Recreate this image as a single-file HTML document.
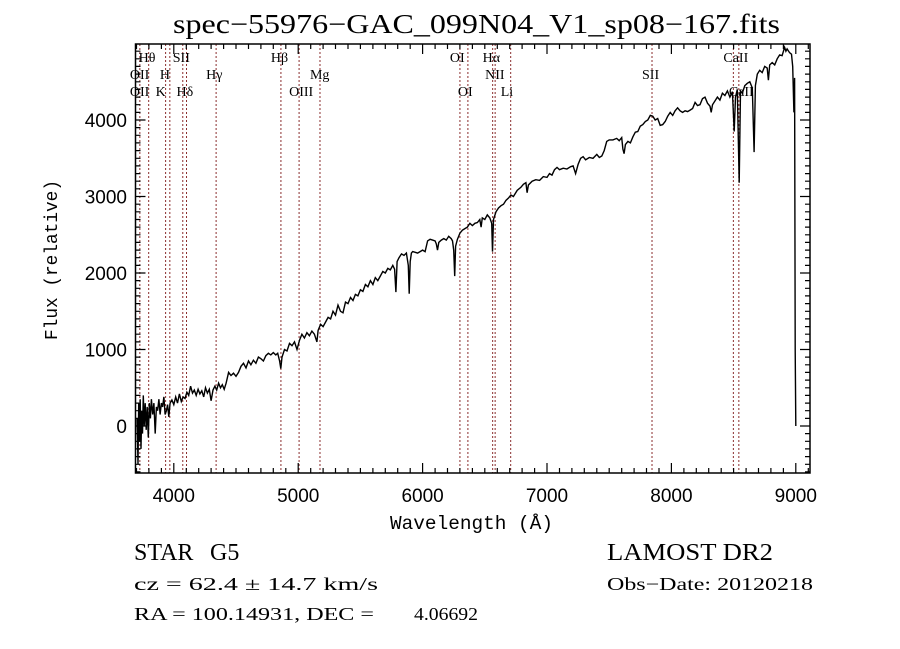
<!DOCTYPE html>
<html><head><meta charset="utf-8"><style>
html,body{margin:0;padding:0;background:#fff;}
svg{display:block;}
text{white-space:pre;}
</style></head><body>
<svg id="chart" width="900" height="649" viewBox="0 0 900 649" xmlns="http://www.w3.org/2000/svg" xml:space="preserve">
<rect width="900" height="649" fill="#fff"/>
<text x="173" y="33" font-family="Liberation Serif, serif" font-size="27" textLength="607" lengthAdjust="spacingAndGlyphs">spec−55976−GAC_099N04_V1_sp08−167.fits</text>
<g id="lines"></g>
<g id="series"></g>
<g id="axes"></g>
<text x="390" y="529" font-family="Liberation Mono, monospace" font-size="19" textLength="163" lengthAdjust="spacingAndGlyphs">Wavelength (Å)</text>
<text transform="translate(57,340) rotate(-90)" font-family="Liberation Mono, monospace" font-size="18" textLength="160" lengthAdjust="spacingAndGlyphs">Flux (relative)</text>
<text x="134" y="560" font-family="Liberation Serif, serif" font-size="24">STAR</text>
<text x="210" y="560" font-family="Liberation Serif, serif" font-size="24">G5</text>
<text x="607" y="560" font-family="Liberation Serif, serif" font-size="24" textLength="166" lengthAdjust="spacingAndGlyphs">LAMOST DR2</text>
<text x="134" y="590" font-family="Liberation Serif, serif" font-size="18" textLength="244" lengthAdjust="spacingAndGlyphs">cz = 62.4 ± 14.7 km/s</text>
<text x="607" y="590" font-family="Liberation Serif, serif" font-size="18" textLength="206" lengthAdjust="spacingAndGlyphs">Obs−Date: 20120218</text>
<text x="134" y="620" font-family="Liberation Serif, serif" font-size="18" textLength="240" lengthAdjust="spacingAndGlyphs">RA = 100.14931, DEC =</text>
<text x="414" y="620" font-family="Liberation Serif, serif" font-size="18" textLength="64" lengthAdjust="spacingAndGlyphs">4.06692</text>
</svg>
<script>
const waves = [3705,3712,3718,3724,3730,3736,3742,3748,3755,3762,3770,3778,3786,3795,3803,3812,3820,3830,3840,3850,3860,3870,3880,3890,3900,3910,3920,3930,3940,3950,3960,3970,3985,4000,4015,4030,4045,4060,4075,4090,4105,4120,4135,4150,4165,4180,4195,4210,4225,4240,4255,4270,4285,4300,4315,4330,4345,4360,4375,4390,4405,4420,4440,4460,4480,4500,4520,4540,4560,4580,4600,4620,4640,4660,4680,4700,4720,4740,4760,4780,4800,4820,4835,4850,4860,4870,4890,4910,4930,4950,4970,4990,5010,5030,5050,5070,5090,5110,5130,5150,5160,5180,5200,5220,5240,5260,5280,5300,5320,5340,5360,5380,5400,5420,5440,5460,5480,5500,5520,5540,5560,5580,5600,5620,5640,5660,5680,5700,5720,5740,5760,5775,5785,5795,5810,5830,5850,5870,5885,5892,5900,5910,5920,5940,5960,5980,6000,6020,6040,6060,6080,6100,6110,6120,6130,6150,6170,6190,6210,6230,6240,6250,6258,6265,6280,6300,6320,6340,6360,6380,6400,6420,6440,6460,6470,6480,6500,6520,6540,6555,6562,6570,6590,6610,6630,6650,6670,6690,6710,6730,6760,6790,6810,6830,6840,6850,6880,6910,6940,6970,7000,7020,7040,7060,7080,7100,7130,7160,7190,7210,7230,7250,7270,7290,7310,7340,7370,7400,7420,7440,7460,7480,7500,7530,7560,7580,7600,7610,7620,7630,7650,7670,7690,7710,7730,7750,7770,7790,7810,7830,7850,7870,7890,7910,7930,7950,7970,7990,8010,8030,8050,8070,8090,8110,8130,8150,8170,8190,8210,8230,8250,8270,8290,8310,8320,8330,8350,8370,8390,8410,8430,8450,8470,8490,8505,8515,8530,8545,8555,8570,8590,8610,8630,8650,8665,8675,8690,8710,8730,8750,8770,8780,8790,8810,8830,8850,8870,8890,8910,8920,8930,8950,8965,8975,8985,8990,8995,9000];
const fluxes = [100,-500,300,-200,350,-300,200,-100,400,0,300,-50,250,-150,300,100,350,150,300,-100,250,200,350,150,300,250,380,150,200,280,120,300,340,280,380,300,420,320,380,360,440,400,520,430,470,400,480,420,460,380,500,430,480,330,470,520,470,560,500,540,480,560,700,660,690,650,700,780,820,760,850,800,860,820,900,880,850,920,950,930,960,930,950,850,750,900,1000,980,1080,1050,1100,1000,1120,1200,1150,1220,1180,1240,1200,1100,1250,1330,1300,1360,1420,1400,1500,1450,1580,1500,1480,1620,1600,1680,1640,1720,1700,1780,1760,1850,1820,1900,1850,1940,1900,1960,2020,2000,2060,2040,2100,2050,1750,2150,2200,2250,2230,2260,2100,1730,2150,2260,2280,2270,2260,2280,2300,2280,2420,2440,2430,2420,2380,2300,2400,2430,2450,2430,2480,2450,2420,2300,1960,2350,2440,2520,2560,2580,2600,2650,2620,2650,2660,2700,2600,2720,2700,2760,2720,2650,2280,2700,2800,2850,2880,2900,2950,2980,3020,3000,3080,3120,3160,3180,3050,3150,3200,3220,3210,3260,3250,3300,3280,3350,3380,3350,3370,3360,3390,3400,3300,3420,3500,3520,3480,3510,3500,3550,3510,3530,3600,3720,3740,3740,3760,3730,3770,3620,3560,3680,3720,3700,3780,3840,3850,3920,3940,3980,4000,4060,4050,4000,4020,3930,3940,3980,4050,4100,4060,4120,4160,4120,4100,4120,4110,4130,4150,4230,4190,4200,4280,4300,4220,4180,4100,4200,4250,4300,4260,4350,4320,4380,4300,4370,3850,4300,4400,3180,4380,4350,4450,4480,4500,4420,3580,4450,4600,4650,4620,4700,4680,4520,4720,4750,4720,4800,4850,4840,4950,4900,4930,4880,4860,4700,4100,4550,1000,0];
const xTickValues = [4000,5000,6000,7000,8000,9000];
const yTickValues = [0,1000,2000,3000,4000];
const lineWaves = [3727,3798,3934,3968,4072,4102,4340,4861,5007,5175,6300,6364,6563,6583,6708,7844,8498,8542];
const lineLabels = ["Hθ","SII","Hβ","OI","Hα","CaII","OII","H","Hγ","Mg","NII","SII","OII","K","Hδ","OIII","OI","Li","CaII"];
const labelWaves = [3798,4072,4861,6300,6563,8498,3727,3968,4340,5175,6583,7844,3727,3934,4102,5007,6364,6708,8542];
const labelRows = [0,0,0,0,0,0,1,1,1,1,1,1,2,2,2,2,2,2,2];

const NS = "http://www.w3.org/2000/svg";
const L = 135.5, R = 810, T = 44, B = 473;
const W0 = 3692, PXW = 0.1244;
const yScaleK = 0.0765, Y0 = 426;
function xs(w){ return L + (w - W0) * PXW; }
function ys(f){ return Y0 - f * yScaleK; }
function mk(tag, attrs, parent){ const e = document.createElementNS(NS, tag); for (const k in attrs) e.setAttribute(k, attrs[k]); parent.appendChild(e); return e; }

const gl = document.getElementById('lines');
lineWaves.forEach(w => {
  const ln = mk('line', {x1: xs(w), x2: xs(w), y1: T, y2: B, stroke: '#8b2e2e', 'stroke-width': 1, 'stroke-dasharray': '2,2'}, gl);
  
  
});
const rowY = [62, 79, 96];
lineLabels.forEach((t, i) => {
  const tx = mk('text', {x: xs(labelWaves[i]) - 10, y: rowY[labelRows[i]], 'font-family': 'Liberation Serif, serif', 'font-size': 14}, gl);
  tx.textContent = t;
  
  
});

const gs = document.getElementById('series');
let d = '';
waves.forEach((w, i) => { d += (i ? 'L' : 'M') + xs(w).toFixed(1) + ',' + ys(fluxes[i]).toFixed(1); });
const clip = mk('clipPath', {id: 'pc'}, gs);
mk('rect', {x: L, y: T, width: R - L, height: B - T}, clip);
const path = mk('path', {d: d, fill: 'none', stroke: '#000', 'stroke-width': 1.4, 'clip-path': 'url(#pc)'}, gs);



const ga = document.getElementById('axes');
const frame = mk('rect', {x: L, y: T, width: R - L, height: B - T, fill: 'none', stroke: '#000', 'stroke-width': 1.5}, ga);


let tp = '';
for (let w = 3700; w <= 9100; w += 100) {
  const x = xs(w).toFixed(1); const len = (w % 1000 === 0) ? 10 : 5;
  tp += `M${x},${B}v${-len}M${x},${T}v${len}`;
}
for (let f = -600; f <= 4900; f += 100) {
  const y = ys(f).toFixed(1); const len = (f % 1000 === 0) ? 10 : 5;
  tp += `M${L},${y}h${len}M${R},${y}h${-len}`;
}
const ticks = mk('path', {d: tp, stroke: '#000', 'stroke-width': 1.2, fill: 'none'}, ga);


xTickValues.forEach(v => {
  const t = mk('text', {x: xs(v), y: 502, 'text-anchor': 'middle', 'font-family': 'Liberation Sans, sans-serif', 'font-size': 19}, ga);
  t.textContent = v;
  
  
});
yTickValues.forEach(v => {
  const t = mk('text', {x: 127, y: ys(v) + 7, 'text-anchor': 'end', 'font-family': 'Liberation Sans, sans-serif', 'font-size': 19}, ga);
  t.textContent = v;
  
  
});
</script>
</body></html>
